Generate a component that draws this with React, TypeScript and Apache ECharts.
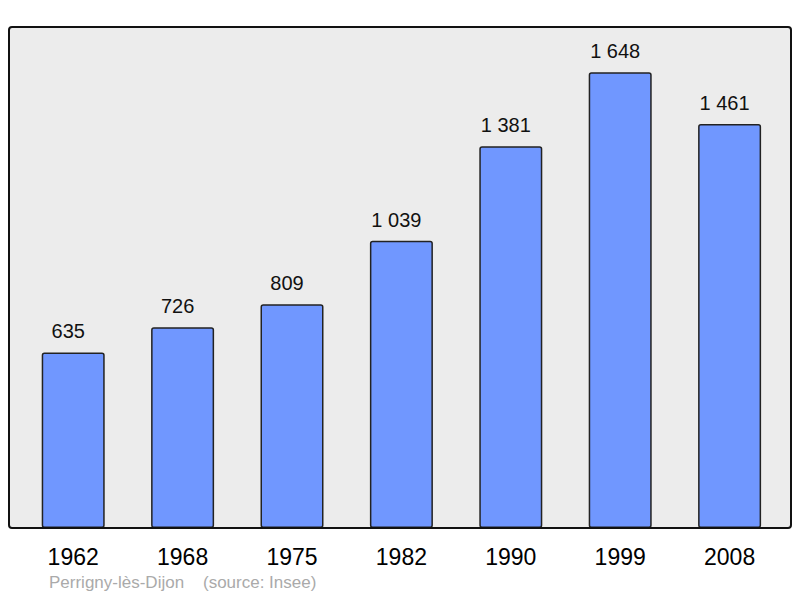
import React, { useEffect, useRef } from "react";
import * as echarts from "echarts";

const years = ["1962", "1968", "1975", "1982", "1990", "1999", "2008"];
const population = [635, 726, 809, 1039, 1381, 1648, 1461];
const footer = "Perrigny-lès-Dijon    (source: Insee)";

const fmt = (v: number) => {
  const s = String(v);
  return s.length > 3 ? s.slice(0, s.length - 3) + " " + s.slice(-3) : s;
};

export default function App() {
  const ref = useRef<HTMLDivElement>(null);
  useEffect(() => {
    if (!ref.current) return;
    const chart = echarts.init(ref.current, undefined, { renderer: "svg" });
    chart.setOption({
      animation: false,
      textStyle: { fontFamily: "Liberation Sans, Arial, sans-serif" },
      grid: { left: 18.5, right: 15.7, top: 27, bottom: 70 },
      xAxis: {
        type: "category",
        data: years,
        axisLine: { show: false },
        axisTick: { show: false },
        axisLabel: { color: "#000", fontSize: 23, margin: 17, fontFamily: "Liberation Sans, Arial, sans-serif" },
      },
      yAxis: {
        type: "value",
        min: 0,
        max: 1812,
        show: false,
        splitLine: { show: false },
      },
      graphic: [
        {
          type: "rect",
          z: 0,
          shape: { x: 9, y: 27, width: 782, height: 501, r: 3 },
          style: { fill: "#ececec", stroke: "none" },
          silent: true,
        },
        {
          type: "rect",
          z: 100,
          shape: { x: 9, y: 27, width: 782, height: 501, r: 3 },
          style: { fill: "none", stroke: "#111", lineWidth: 2 },
          silent: true,
        },
        {
          type: "text",
          left: 49,
          top: 574,
          style: {
            text: footer,
            fill: "#aaaaaa",
            fontSize: 17,
            fontFamily: "Liberation Sans, Arial, sans-serif",
          },
        },
      ],
      series: [
        {
          type: "bar",
          data: population,
          barWidth: 63,
          z: 10,
          itemStyle: {
            color: "#7097ff",
            borderColor: "#222",
            borderWidth: 1.5,
            borderRadius: 2,
          },
          label: {
            show: true,
            position: "top",
            distance: 11,
            offset: [-5, 0],
            color: "#111",
            fontSize: 20,
            fontFamily: "Liberation Sans, Arial, sans-serif",
            formatter: (p: any) => fmt(p.value),
          },
        },
      ],
    });
    return () => chart.dispose();
  }, []);
  return <div ref={ref} style={{ width: 800, height: 598, position: "absolute", left: 0, top: 0 }} />;
}
